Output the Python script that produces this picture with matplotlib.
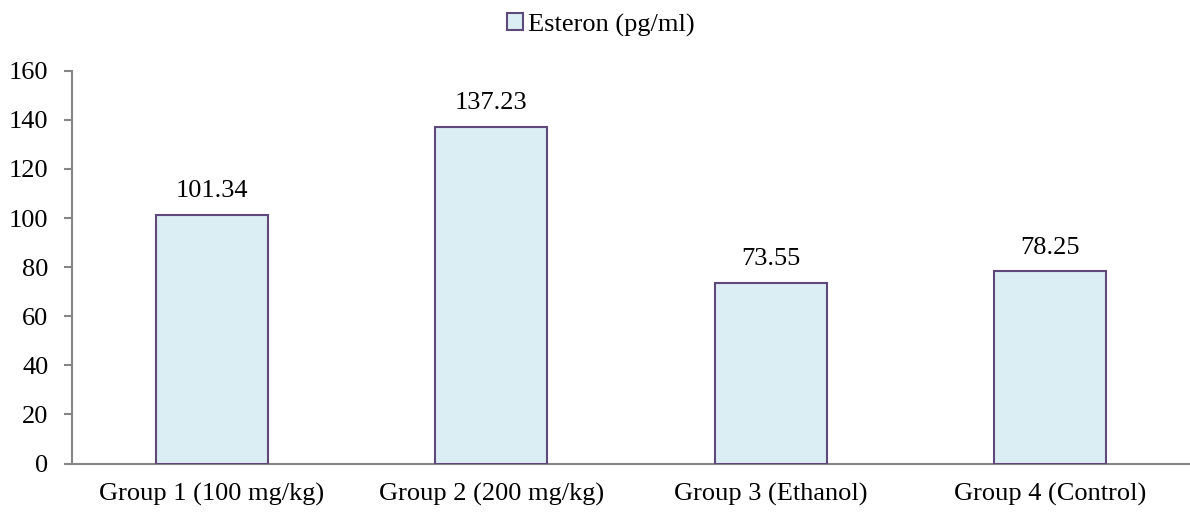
import matplotlib
matplotlib.use("Agg")
import matplotlib.pyplot as plt
from matplotlib.patches import Patch

groups = ["Group 1 (100 mg/kg)", "Group 2 (200 mg/kg)",
          "Group 3 (Ethanol)", "Group 4 (Control)"]
esteron = [101.34, 137.23, 73.55, 78.25]
yticks = [0, 20, 40, 60, 80, 100, 120, 140, 160]

FILL = "#dbeef4"
EDGE = "#5f497a"
AXIS = "#868686"

plt.rcParams["font.family"] = ["Liberation Serif", "DejaVu Serif"]

fig = plt.figure(figsize=(11.9, 5.15), dpi=100)
ax = fig.add_axes([72 / 1190, 0.1, 1 - 72 / 1190, 0.7627])

x = list(range(len(groups)))
bars = ax.bar(x, esteron, width=0.4, color=FILL, edgecolor=EDGE,
              linewidth=1.5, zorder=3)
for b, v in zip(bars, esteron):
    ax.annotate(f"{v:.2f}", (b.get_x() + b.get_width() / 2, v),
                textcoords="offset points", xytext=(0, 9),
                ha="center", va="bottom", fontsize=19)

ax.set_xlim(-0.5, len(groups) - 0.5)
ax.set_ylim(0, 160)
ax.set_yticks(yticks)
ax.set_xticks(x)
ax.set_xticklabels(groups)
ax.tick_params(axis="y", length=6, width=1.5, color=AXIS, labelsize=19, pad=11)
ax.tick_params(axis="x", length=0, labelsize=19, pad=14)

for side in ("top", "right"):
    ax.spines[side].set_visible(False)
for side in ("left", "bottom"):
    ax.spines[side].set_color(AXIS)
    ax.spines[side].set_linewidth(1.5)

handle = Patch(facecolor=FILL, edgecolor=EDGE, linewidth=1.5)
fig.legend([handle], ["Esteron (pg/ml)"], loc="upper center",
           bbox_to_anchor=(0.505, 1.02), frameon=False, fontsize=19,
           handlelength=0.6, handleheight=0.6, handletextpad=0.2)

fig.savefig("out.png", dpi=100)
